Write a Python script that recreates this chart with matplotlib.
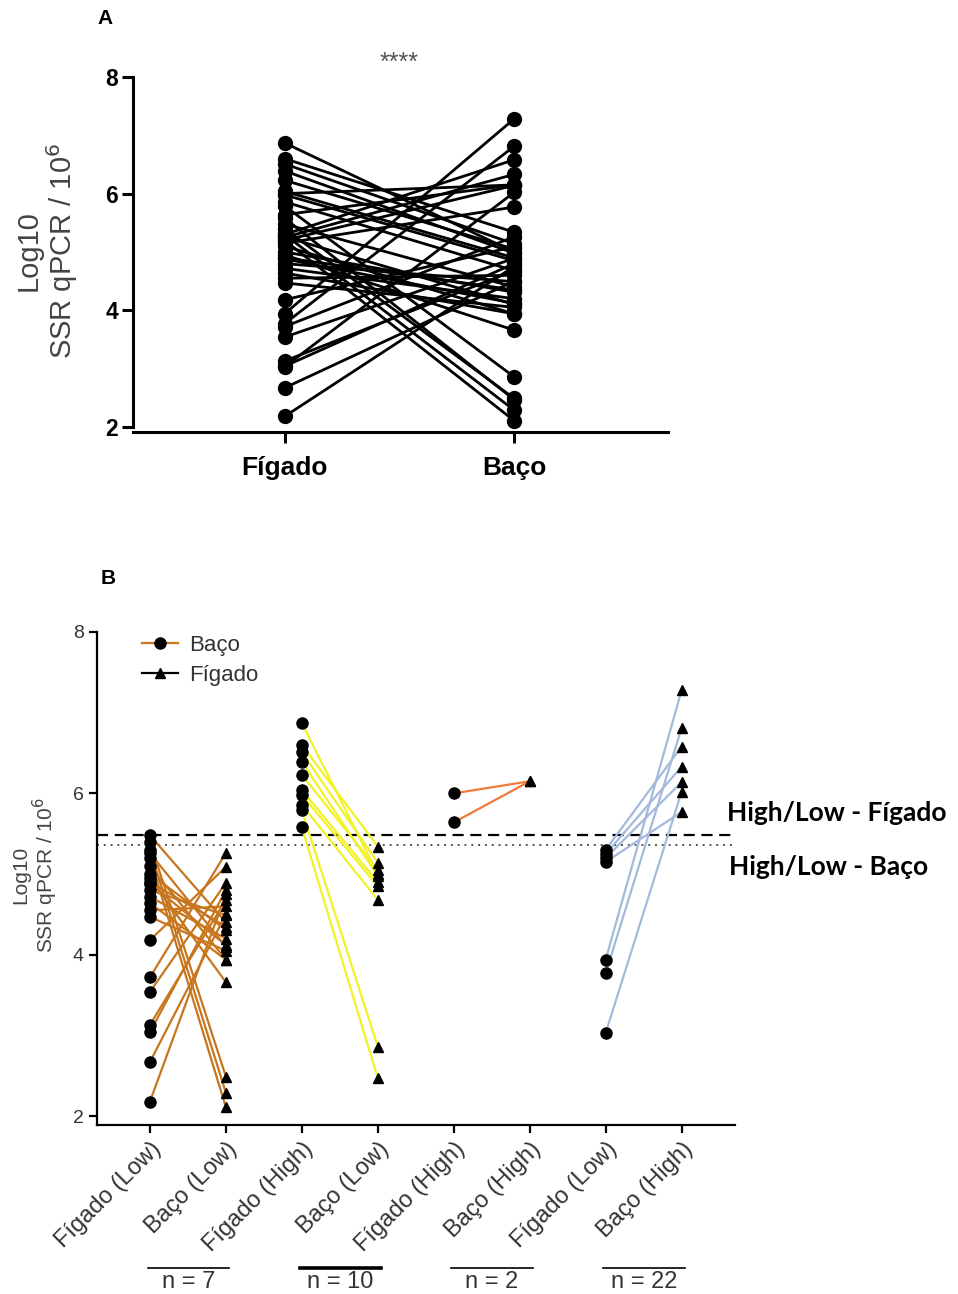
import numpy as np
import matplotlib
matplotlib.use("Agg")
import matplotlib.pyplot as plt
from matplotlib.lines import Line2D

plt.rcParams['font.family'] = ['Liberation Sans', 'DejaVu Sans']

# === Panel B data (pairs Fígado -> Baço per group) ===
g1_figado = [5.48, 5.40, 5.30, 5.26, 5.20, 5.10, 5.00, 4.95, 4.88, 4.80, 4.72,
             4.64, 4.55, 4.47, 4.18, 3.72, 3.54, 3.13, 3.04, 2.67, 2.18, 4.90]
g1_baco = [4.40, 2.49, 2.29, 4.10, 2.11, 3.94, 4.31, 3.66, 4.12, 4.49, 4.20,
           3.94, 4.60, 4.05, 5.09, 5.26, 4.89, 4.68, 4.80, 4.50, 4.75, 4.35]
g2_figado = [6.87, 6.60, 6.51, 6.39, 6.23, 6.04, 5.98, 5.86, 5.79, 5.58]
g2_baco = [5.00, 5.34, 5.14, 4.98, 5.05, 4.90, 4.85, 4.68, 2.86, 2.47]
g3_figado = [6.00, 5.64]
g3_baco = [6.15, 6.15]
g4_figado = [5.30, 5.25, 5.20, 5.15, 3.94, 3.77, 3.03]
g4_baco = [6.58, 6.33, 6.14, 5.77, 7.28, 6.81, 6.02]

groups = [(g1_figado, g1_baco), (g2_figado, g2_baco),
          (g3_figado, g3_baco), (g4_figado, g4_baco)]
group_colors = ['#c8761e', '#f2f226', '#f07a3a', '#a3badc']
tick_labels_b = ["Fígado (Low)", "Baço (Low)", "Fígado (High)", "Baço (Low)",
                 "Fígado (High)", "Baço (High)", "Fígado (Low)", "Baço (High)"]
n_labels = ["n = 7", "n = 10", "n = 2", "n = 22"]
cutoff_figado = 5.48
cutoff_baco = 5.36

# Panel A is all pairs together
all_figado = g1_figado + g2_figado + g3_figado + g4_figado
all_baco = g1_baco + g2_baco + g3_baco + g4_baco

fig = plt.figure(figsize=(9.58, 12.94), dpi=100)

# === Panel A ===
axA = fig.add_axes([0.139, 0.666, 0.558, 0.2745])
for a, b in zip(all_figado, all_baco):
    axA.plot([0, 1], [a, b], color='black', lw=2, zorder=2)
axA.plot(np.zeros(len(all_figado)), all_figado, 'o', color='black', ms=10, zorder=3)
axA.plot(np.ones(len(all_baco)), all_baco, 'o', color='black', ms=10, zorder=3)
axA.set_xlim(-0.66, 1.67)
axA.set_ylim(1.91, 8)
axA.set_yticks([2, 4, 6, 8])
axA.set_xticks([0, 1])
axA.set_xticklabels(["Fígado", "Baço"])
for s in ['top', 'right']:
    axA.spines[s].set_visible(False)
axA.spines['left'].set_bounds(2, 8)
for s in ['left', 'bottom']:
    axA.spines[s].set_linewidth(2.2)
axA.tick_params(width=2.2, length=8)
axA.tick_params(axis='y', pad=3)
axA.tick_params(axis='x', pad=9)
for lab in axA.get_yticklabels():
    lab.set_fontweight('bold')
    lab.set_fontsize(16.5)
for lab in axA.get_xticklabels():
    lab.set_fontweight('bold')
    lab.set_fontsize(19)
axA.text(0.5, 8.25, "****", ha='center', va='center', fontsize=18, color='#555555')
fig.text(0.049, 0.806, "Log10\nSSR qPCR / 10$^6$", rotation=90, ha='center',
         va='center', fontsize=21, color='#444444', multialignment='center',
         linespacing=1.05)
fig.text(0.110, 0.986, "A", fontsize=15, fontweight='bold', ha='center', va='center')

# === Panel B ===
axB = fig.add_axes([0.101, 0.1306, 0.666, 0.381])
for i, (fg, bc) in enumerate(groups):
    x0, x1 = 2 * i, 2 * i + 1
    for a, b in zip(fg, bc):
        axB.plot([x0, x1], [a, b], color=group_colors[i], lw=1.6, zorder=2)
    axB.plot([x0] * len(fg), fg, 'o', color='black', ms=8, zorder=3)
    axB.plot([x1] * len(bc), bc, '^', color='black', ms=6.5, zorder=3)

axB.axhline(cutoff_figado, color='black', ls=(0, (5, 3)), lw=1.6, zorder=1)
axB.axhline(cutoff_baco, color='#555555', ls=(0, (1, 2.5)), lw=1.4, zorder=1)

axB.set_xlim(-0.7, 7.7)
axB.set_ylim(1.89, 8)
axB.set_yticks([2, 4, 6, 8])
axB.set_xticks(range(8))
axB.set_xticklabels(tick_labels_b, rotation=45, ha='right', rotation_mode='anchor',
                    fontsize=17, color='#333333')
for s in ['top', 'right']:
    axB.spines[s].set_visible(False)
axB.spines['left'].set_bounds(1.89, 8)
for s in ['left', 'bottom']:
    axB.spines[s].set_linewidth(1.6)
axB.tick_params(width=1.6, length=6, colors='black')
axB.tick_params(axis='y', labelsize=14)
for lab in axB.get_yticklabels():
    lab.set_color('#333333')
for lab in axB.get_xticklabels():
    lab.set_color('#333333')

handles = [Line2D([], [], color=group_colors[0], marker='o', mfc='black', mec='black', ms=8, lw=1.6),
           Line2D([], [], color='black', marker='^', ms=6.5, lw=1.6)]
leg = axB.legend(handles, ["Baço", "Fígado"], loc='upper left', bbox_to_anchor=(0.04, 1.035),
                 frameon=False, fontsize=16, handlelength=1.6, handletextpad=0.5,
                 labelspacing=0.4)
for t in leg.get_texts():
    t.set_color('#333333')

fig.text(0.037, 0.324, "Log10\nSSR qPCR / 10$^6$", rotation=90, ha='center',
         va='center', fontsize=15, color='#444444', multialignment='center',
         linespacing=1.05)
fig.text(0.113, 0.553, "B", fontsize=15, fontweight='bold', ha='center', va='center')

# group brackets with n
trans = axB.get_xaxis_transform()
for i, lab in enumerate(n_labels):
    x0, x1 = 2 * i - 0.03, 2 * i + 1.04
    axB.plot([x0, x1], [-0.29, -0.29], color='black', lw=2.6 if i == 1 else 1.2,
             transform=trans, clip_on=False)
    axB.text((x0 + x1) / 2, -0.318, lab, transform=trans, ha='center', va='center',
             fontsize=17, color='#333333', family=['Liberation Sans Narrow', 'Liberation Sans'])

# cutoff labels
fig.text(0.759, 1 - 813 / 1294, "High/Low - Fígado", fontsize=19, fontweight='bold',
         ha='left', va='center', family=['Lato', 'DejaVu Sans'])
fig.text(0.761, 1 - 867 / 1294, "High/Low - Baço", fontsize=19, fontweight='bold',
         ha='left', va='center', family=['Lato', 'DejaVu Sans'])

fig.savefig("out.png", dpi=100)
